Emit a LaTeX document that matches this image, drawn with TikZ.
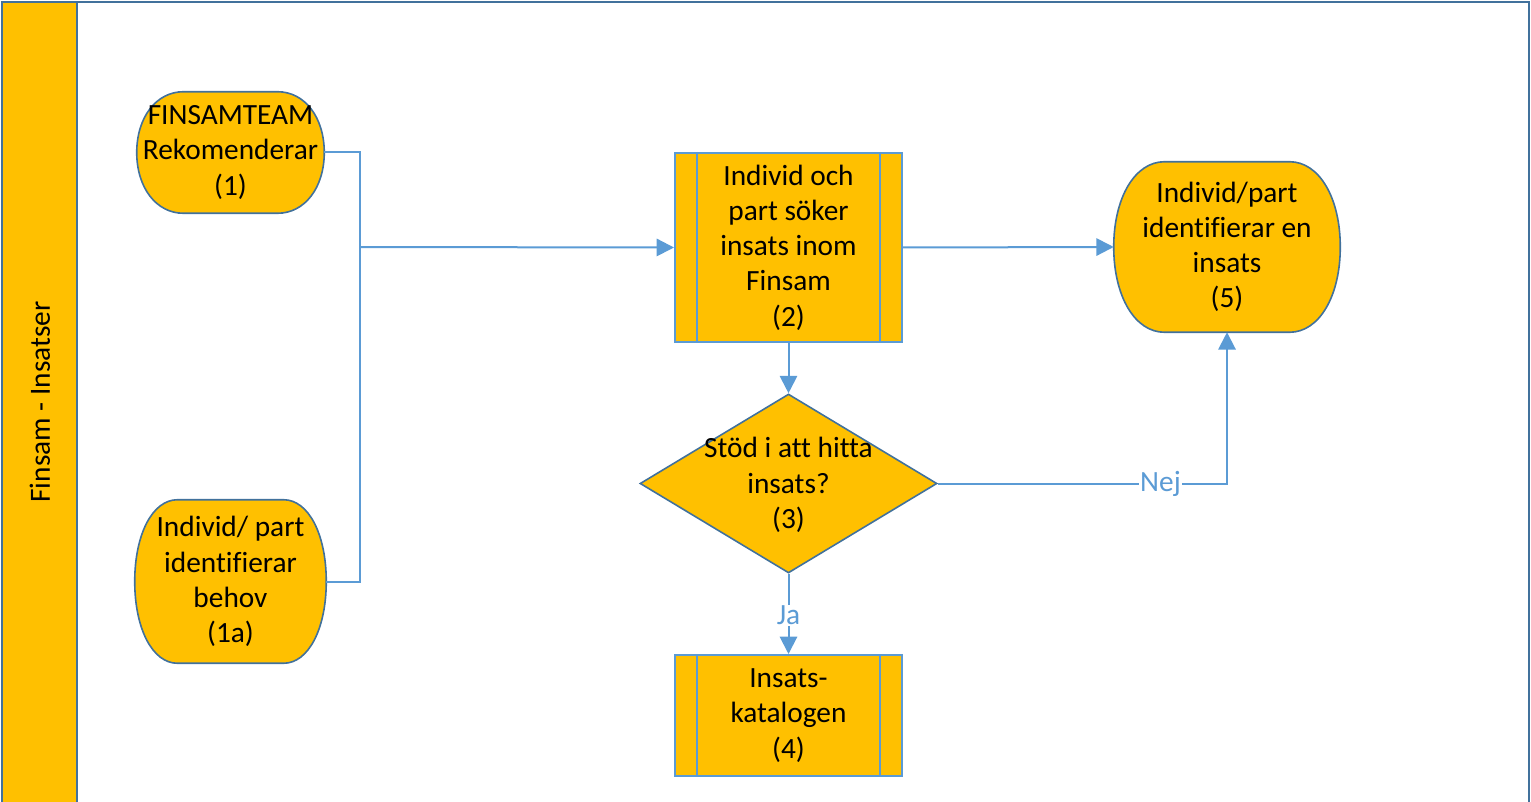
\documentclass[tikz,border=0pt]{standalone}
\usepackage{fontspec}
\setmainfont{Carlito}[Ligatures=NoCommon]
\usetikzlibrary{arrows.meta,shapes.geometric,calc,backgrounds}
\definecolor{laneyellow}{HTML}{FFC000}
\definecolor{frameblue}{HTML}{41719C}
\definecolor{lineblue}{HTML}{5B9BD5}
\tikzset{
  txt/.style={font=\fontsize{22}{26.4}\selectfont, align=center, text=black},
  term/.style={inner sep=0pt, txt},
  termbg/.style={draw=frameblue, line width=1.2pt, fill=laneyellow},
  subproc/.style={draw=lineblue, line width=1.5pt, fill=laneyellow, inner sep=0pt, txt},
  decision/.style={diamond, draw=frameblue, line width=1.2pt, fill=laneyellow, inner sep=0pt, minimum width=222.75pt, minimum height=134.25pt},
  conn/.style={draw=lineblue, line width=1.5pt},
  arr/.style={conn, -{Triangle[length=13pt,width=13pt]}},
  lbl/.style={font=\fontsize{22}{26.4}\selectfont, text=lineblue, fill=white, inner sep=1pt},
}
% terminator outline behind node #1, horizontal corner radius #2 (pt)
\newcommand\termoutline[2]{%
  \begin{scope}[on background layer]
  \path[termbg] let \p1=(#1.north west), \p2=(#1.south east), \n1={#2}, \n2={(\y1-\y2)/2} in
    (\x1+\n1,\y1) -- (\x2-\n1,\y1)
    .. controls (\x2-0.42*\n1,\y1) and (\x2,\y1-0.42*\n2) .. (\x2,\y1-\n2)
    .. controls (\x2,\y2+0.42*\n2) and (\x2-0.42*\n1,\y2) .. (\x2-\n1,\y2)
    -- (\x1+\n1,\y2)
    .. controls (\x1+0.42*\n1,\y2) and (\x1,\y2+0.42*\n2) .. (\x1,\y1-\n2)
    .. controls (\x1,\y1-0.42*\n2) and (\x1+0.42*\n1,\y1) .. cycle;
  \end{scope}}
\begin{document}
\begin{tikzpicture}[x=0.75pt,y=-0.75pt]
\useasboundingbox (0,0) rectangle (1531,802);
\clip (0,0) rectangle (1531,802);
% pool / lane
\fill[laneyellow] (2,2) rectangle (77,830);
\draw[frameblue, line width=1.5pt] (77,2) -- (77,830);
\draw[frameblue, line width=2.2pt] (2,830) -- (2,2) -- (1529,2) -- (1529,830);
\node[txt, rotate=90] (lane) at (40,402) {Finsam - Insatser};
% nodes
\node[term, minimum width=140.25pt, minimum height=90.75pt] (n1) at (230.5,152.5) {FINSAMTEAM\\Rekomenderar\\(1)};
\termoutline{n1}{35pt}
\node[term, minimum width=143.25pt, minimum height=122.25pt] (n1a) at (230.5,581.5) {Individ/ part\\identifierar\\behov\\(1a)};
\termoutline{n1a}{32pt}
\node[subproc, minimum width=170.25pt, minimum height=141.75pt] (n2) at (788.5,247.5) {Individ och\\part söker\\insats inom\\Finsam\\(2)};
\draw[lineblue, line width=1.2pt] ([xshift=17.25pt]n2.north west) -- ([xshift=17.25pt]n2.south west);
\draw[lineblue, line width=1.2pt] ([xshift=-17.25pt]n2.north east) -- ([xshift=-17.25pt]n2.south east);
\node[term, minimum width=169.5pt, minimum height=127.5pt] (n5) at (1227,247) {Individ/part\\identifierar en\\insats\\(5)};
\termoutline{n5}{38pt}
\node[decision] (d3) at (788.5,483.5) {};
\node[txt] (d3t) at (788.5,485) {Stöd i att hitta\\insats?\\(3)};
\node[subproc, minimum width=170.25pt, minimum height=90.75pt] (n4) at (788.5,715.5) {Insats-\\katalogen\\(4)};
\draw[lineblue, line width=1.2pt] ([xshift=17.25pt]n4.north west) -- ([xshift=17.25pt]n4.south west);
\draw[lineblue, line width=1.2pt] ([xshift=-17.25pt]n4.north east) -- ([xshift=-17.25pt]n4.south east);
% connectors
\coordinate (j1) at (360,247);
\draw[conn] (n1.east) -| (j1) |- (n1a.east);
\draw[arr] (j1) -- (n2.west);
\draw[arr] (n2.east) -- (n5.west);
\draw[arr] (n2.south) -- (d3.north);
\draw[arr] (d3.east) -| node[lbl, pos=0.385] (nej) {Nej} (n5.south);
\draw[arr] (d3.south) -- node[lbl, pos=0.52] (ja) {Ja} (n4.north);
\end{tikzpicture}
\end{document}
